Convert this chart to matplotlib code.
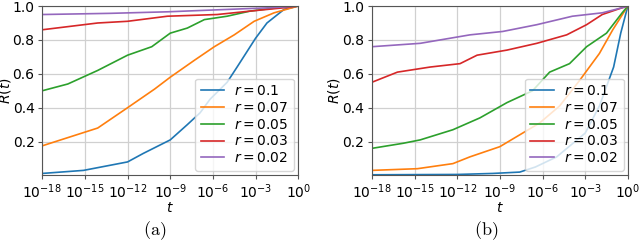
#!/usr/bin/env python3
"""
Recovery curves R(t) against t on a log axis, two panels (a) and (b)
"""
import matplotlib
matplotlib.use('Agg')
import matplotlib.pyplot as plt
import matplotlib.ticker as mticker
import numpy as np

LABELS = ['$r = 0.1$', '$r = 0.07$', '$r = 0.05$', '$r = 0.03$', '$r = 0.02$']
COLORS = ['#1f77b4', '#ff7f0e', '#2ca02c', '#d62728', '#9467bd']

# panel (a): log10(t) and R(t)
A_LOGT = [
    [-18, -15.1, -12, -10.9, -9, -7.8, -6.9, -6.2, -5.0, -4.3, -3.0, -2.2, -1.0, 0],
    [-18, -14.1, -12, -10.1, -9, -7.3, -5.9, -4.5, -3.1, -1.7, 0],
    [-18, -16.2, -14.1, -12, -10.3, -9, -7.8, -6.6, -5, -3.4, -1.0, 0],
    [-18, -14.1, -12, -9.2, -5.7, -3.4, -1.0, 0],
    [-18, -13.2, -9.2, -5.0, -2.0, 0],
]
A_R = [
    [0.012, 0.03, 0.08, 0.13, 0.21, 0.30, 0.37, 0.45, 0.55, 0.64, 0.81, 0.90, 0.98, 1.0],
    [0.175, 0.28, 0.40, 0.51, 0.58, 0.68, 0.76, 0.83, 0.91, 0.96, 1.0],
    [0.50, 0.54, 0.62, 0.71, 0.76, 0.84, 0.87, 0.92, 0.94, 0.97, 0.995, 1.0],
    [0.86, 0.90, 0.91, 0.94, 0.95, 0.97, 0.99, 1.0],
    [0.95, 0.957, 0.966, 0.98, 0.99, 1.0],
]

# panel (b)
B_LOGT = [
    [-18, -12, -9.5, -7.6, -6.5, -5.5, -5.0, -3.0, -2.0, -1.0, -0.5, 0],
    [-18, -14.8, -12.3, -11.1, -9, -7.6, -6.2, -4.8, -3.4, -2.0, -1.06, 0],
    [-18, -15.8, -14.6, -12.3, -10.4, -8.5, -6.7, -5.5, -4.1, -2.9, -1.5, -0.4, 0],
    [-18, -16.2, -13.9, -11.8, -10.6, -8.5, -6.4, -4.3, -2.9, -1.8, -0.4, 0],
    [-18, -14.6, -11.1, -8.8, -6.4, -3.9, -1.8, -0.4, 0],
]
B_R = [
    [0.004, 0.006, 0.012, 0.02, 0.05, 0.09, 0.11, 0.25, 0.41, 0.64, 0.84, 1.0],
    [0.03, 0.04, 0.07, 0.11, 0.17, 0.24, 0.31, 0.41, 0.56, 0.72, 0.86, 1.0],
    [0.16, 0.19, 0.21, 0.27, 0.34, 0.43, 0.50, 0.61, 0.66, 0.76, 0.84, 0.96, 1.0],
    [0.55, 0.61, 0.64, 0.66, 0.71, 0.74, 0.78, 0.83, 0.89, 0.95, 0.99, 1.0],
    [0.76, 0.78, 0.83, 0.85, 0.89, 0.94, 0.96, 0.99, 1.0],
]

XTICKS = [-18, -15, -12, -9, -6, -3, 0]
YTICKS = [0.2, 0.4, 0.6, 0.8, 1.0]

plt.rcParams['font.size'] = 10
plt.rcParams['mathtext.fontset'] = 'dejavusans'
plt.rcParams['axes.edgecolor'] = '#555555'
plt.rcParams['xtick.color'] = '#555555'
plt.rcParams['ytick.color'] = '#555555'
plt.rcParams['xtick.labelcolor'] = 'black'
plt.rcParams['ytick.labelcolor'] = 'black'


def draw_panel(ax, logts, rs):
    for logt, r, color, label in zip(logts, rs, COLORS, LABELS):
        ax.plot(10.0 ** np.array(logt), r, color=color, lw=1.2, label=label)
    ax.set_xscale('log')
    ax.set_xlim(1e-18, 1.0)
    ax.set_ylim(0.003, 1.0)
    ax.set_xticks([10.0 ** e for e in XTICKS])
    ax.xaxis.set_minor_locator(mticker.NullLocator())
    ax.set_yticks(YTICKS)
    ax.tick_params(labelsize=10, pad=2.5, length=3)
    ax.grid(True, color='#d0d0d0', lw=0.9)
    ax.set_xlabel('$t$', labelpad=0)
    ax.set_ylabel('$R(t)$', labelpad=0)
    ax.legend(loc='lower right', fontsize=10, handlelength=1.7,
              labelspacing=0.2, borderaxespad=0.3, handletextpad=0.7)


fig = plt.figure(figsize=(6.4, 2.42), dpi=100)
ax1 = fig.add_axes([0.066, 0.277, 0.400, 0.698])
ax2 = fig.add_axes([0.581, 0.277, 0.400, 0.698])

draw_panel(ax1, A_LOGT, A_R)
draw_panel(ax2, B_LOGT, B_R)

fig.text(0.242, 0.045, r'$\mathrm{(a)}$', ha='center', va='center',
         math_fontfamily='cm', fontsize=13)
fig.text(0.759, 0.045, r'$\mathrm{(b)}$', ha='center', va='center',
         math_fontfamily='cm', fontsize=13)

fig.savefig('out.png', dpi=100)
plt.close(fig)
